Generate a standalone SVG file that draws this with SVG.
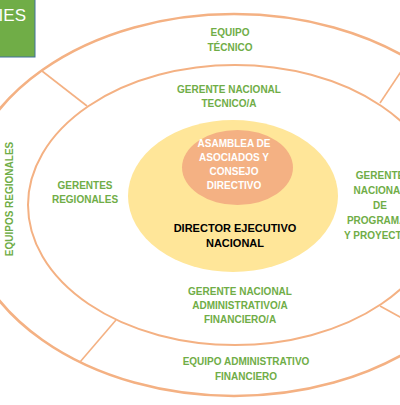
<svg xmlns="http://www.w3.org/2000/svg" width="400" height="405" viewBox="0 0 400 405">
<style>
.ring{fill:none;stroke:#F4B183}
.conn{stroke:#F4B183;stroke-width:1.6;fill:none}
.g{font-family:"Liberation Sans",Arial,sans-serif;font-weight:bold;font-size:10px;fill:#70AD47;text-anchor:middle}
.w{font-family:"Liberation Sans",Arial,sans-serif;font-weight:bold;font-size:10px;fill:#FFFFFF;text-anchor:middle}
.k{font-family:"Liberation Sans",Arial,sans-serif;font-weight:bold;font-size:11px;fill:#000000;text-anchor:middle}
</style>
<rect width="400" height="405" fill="#FFFFFF"/>
<g id="title">
<rect x="-5" y="-5" width="40" height="62" fill="#70AD47" stroke="#41719C" stroke-width="1"/>
<text x="26" y="21" font-family="'Liberation Sans',Arial,sans-serif" font-size="17" fill="#FFFFFF" text-anchor="end">CIES</text>
</g>
<g id="outer-ring">
<ellipse class="ring" cx="234" cy="205" rx="271" ry="191" stroke-width="2.6"/>
</g>
<g id="middle-ring">
<ellipse class="ring" cx="235" cy="205" rx="207" ry="140" stroke-width="2"/>
</g>
<g id="connectors">
<line class="conn" x1="42" y1="71" x2="87" y2="106"/>
<line class="conn" x1="380" y1="103" x2="412" y2="55"/>
<line class="conn" x1="116" y1="320" x2="80" y2="362"/>
<line class="conn" x1="380" y1="306" x2="420" y2="328"/>
</g>
<g id="director">
<ellipse cx="233" cy="196" rx="105" ry="76" fill="#FFE699"/>
<text class="k" x="235" y="232">DIRECTOR EJECUTIVO</text>
<text class="k" x="235" y="247">NACIONAL</text>
</g>
<g id="asamblea">
<ellipse cx="237.5" cy="167.5" rx="55.5" ry="37.5" fill="#F4B183"/>
<text class="w" x="234" y="147">ASAMBLEA DE</text>
<text class="w" x="234" y="161">ASOCIADOS Y</text>
<text class="w" x="234" y="175">CONSEJO</text>
<text class="w" x="234" y="189">DIRECTIVO</text>
</g>
<g id="equipo-tecnico">
<text class="g" x="230" y="36">EQUIPO</text>
<text class="g" x="230" y="51">TÉCNICO</text>
</g>
<g id="gerente-tecnico">
<text class="g" x="229" y="93">GERENTE NACIONAL</text>
<text class="g" x="229" y="107">TECNICO/A</text>
</g>
<g id="gerentes-regionales">
<text class="g" x="85" y="189">GERENTES</text>
<text class="g" x="85" y="203">REGIONALES</text>
</g>
<g id="equipos-regionales">
<text class="g" transform="translate(13,199) rotate(-90)" x="0" y="0" font-size="9.5">EQUIPOS REGIONALES</text>
</g>
<g id="gerente-programas">
<text class="g" x="380" y="179">GERENTE</text>
<text class="g" x="380" y="194">NACIONAL</text>
<text class="g" x="380" y="209">DE</text>
<text class="g" x="380" y="224">PROGRAMAS</text>
<text class="g" x="380" y="239">Y PROYECTOS</text>
</g>
<g id="gerente-administrativo">
<text class="g" x="240" y="295">GERENTE NACIONAL</text>
<text class="g" x="240" y="309">ADMINISTRATIVO/A</text>
<text class="g" x="240" y="323">FINANCIERO/A</text>
</g>
<g id="equipo-administrativo">
<text class="g" x="246" y="365">EQUIPO ADMINISTRATIVO</text>
<text class="g" x="246" y="380">FINANCIERO</text>
</g>
</svg>
